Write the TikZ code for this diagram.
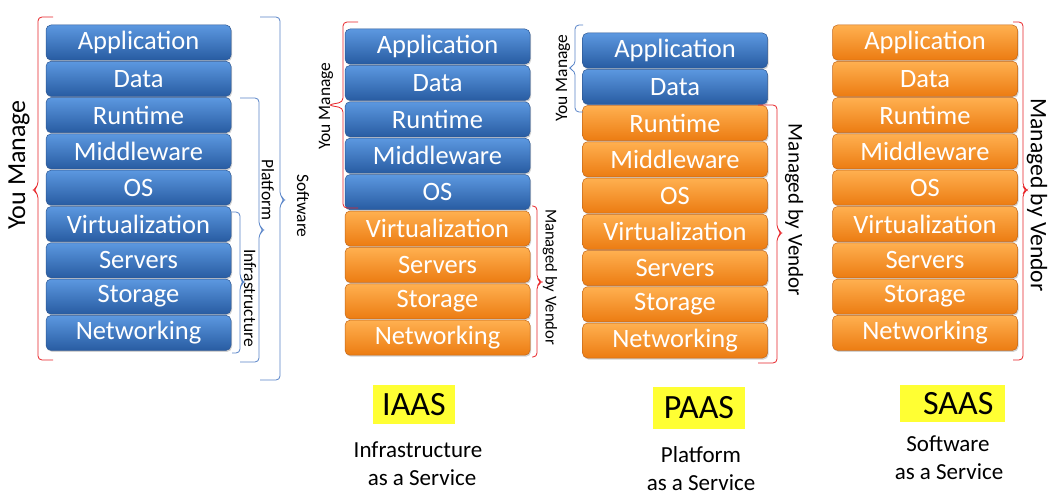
\documentclass[tikz,border=0pt]{standalone}
\usepackage{fontspec}
\setmainfont{Carlito}
\usetikzlibrary{shadows}

\definecolor{youTop}{RGB}{92,152,224}
\definecolor{youBot}{RGB}{40,92,162}
\definecolor{youEdge}{RGB}{46,88,148}
\definecolor{vendTop}{RGB}{255,176,80}
\definecolor{vendBot}{RGB}{236,124,18}
\definecolor{vendEdge}{RGB}{196,104,26}
\definecolor{braceRed}{RGB}{232,36,40}
\definecolor{braceBlue}{RGB}{88,132,200}
\definecolor{hilite}{RGB}{255,255,51}

\tikzset{
  layer/.style={rounded corners=5pt, minimum width=185pt, minimum height=35pt,
    inner sep=0pt, text=white, font=\fontsize{26.5}{29}\selectfont, line width=0.5pt,
    drop shadow={shadow xshift=1pt, shadow yshift=-1.5pt, opacity=0.35}},
  youlayer/.style={layer, draw=youEdge, top color=youTop, bottom color=youBot},
  vendorlayer/.style={layer, draw=vendEdge, top color=vendTop, bottom color=vendBot},
  redbrace/.style={draw=braceRed, line width=0.8pt, rounded corners=4pt},
  bluebrace/.style={draw=braceBlue, line width=0.8pt, rounded corners=4pt},
  sidelabel/.style={inner sep=0pt, font=\fontsize{17.5}{20}\selectfont},
  tag/.style={fill=hilite, inner sep=0pt, font=\fontsize{34}{36}\selectfont},
  caption/.style={anchor=base, inner sep=0pt, font=\fontsize{23}{26}\selectfont},
}

\begin{document}
\begin{tikzpicture}[x=1pt,y=-1pt]
\useasboundingbox[fill=white] (0,0) rectangle (1064,495);

% own stack
\node[youlayer] (ownApplication) at (138.5, 42.5) {Application};
\node[youlayer] (ownData) at (138.5, 78.8) {Data};
\node[youlayer] (ownRuntime) at (138.5,115.1) {Runtime};
\node[youlayer] (ownMiddleware) at (138.5,151.4) {Middleware};
\node[youlayer] (ownOS) at (138.5,187.7) {OS};
\node[youlayer] (ownVirtualization) at (138.5,224.0) {Virtualization};
\node[youlayer] (ownServers) at (138.5,260.3) {Servers};
\node[youlayer] (ownStorage) at (138.5,296.6) {Storage};
\node[youlayer] (ownNetworking) at (138.5,332.9) {Networking};

\path[redbrace] (53,17) -- (38,17) -- (38,186) -- (33,190) -- (38,194) -- (38,360) -- (53,360);
\node[sidelabel, rotate=90, font=\fontsize{26}{28}\selectfont] (ownYou) at (19,165) {You Manage};

\path[bluebrace] (232,212) -- (240,212) -- (240,278) -- (244,282) -- (240,286) -- (240,353) -- (232,353);
\path[bluebrace] (240,98) -- (259,98) -- (259,226) -- (264,230) -- (259,234) -- (259,362) -- (240,362);
\path[bluebrace] (260,17) -- (280,17) -- (280,196) -- (285,200) -- (280,204) -- (280,380) -- (260,380);
\node[sidelabel, rotate=-90] (ownPlatform) at (268,190) {Platform};
\node[sidelabel, rotate=-90] (ownInfra) at (250,298) {Infrastructure};
\node[sidelabel, rotate=-90] (ownSoftware) at (303,206) {Software};

% iaas stack
\node[youlayer] (iaasApplication) at (437.5, 46.5) {Application};
\node[youlayer] (iaasData) at (437.5, 82.9) {Data};
\node[youlayer] (iaasRuntime) at (437.5,119.3) {Runtime};
\node[youlayer] (iaasMiddleware) at (437.5,155.7) {Middleware};
\node[youlayer] (iaasOS) at (437.5,192.1) {OS};
\node[vendorlayer] (iaasVirtualization) at (437.5,228.5) {Virtualization};
\node[vendorlayer] (iaasServers) at (437.5,264.9) {Servers};
\node[vendorlayer] (iaasStorage) at (437.5,301.3) {Storage};
\node[vendorlayer] (iaasNetworking) at (437.5,337.7) {Networking};

\path[redbrace] (358,22) -- (343,22) -- (343,102) -- (328,105) -- (343,108) -- (343,208) -- (358,208);
\node[sidelabel, rotate=90] (iaasYou) at (326,106) {You Manage};
\path[redbrace] (532,206) -- (537,206) -- (537,279) -- (542,282) -- (537,285) -- (537,357) -- (532,357);
\node[sidelabel, rotate=-90, font=\fontsize{16.6}{19}\selectfont] (iaasVendor) at (550,277) {Managed by Vendor};

% paas stack
\node[youlayer] (paasApplication) at (675, 50.5) {Application};
\node[youlayer] (paasData) at (675, 86.75) {Data};
\node[vendorlayer] (paasRuntime) at (675,123) {Runtime};
\node[vendorlayer] (paasMiddleware) at (675,159.25) {Middleware};
\node[vendorlayer] (paasOS) at (675,195.5) {OS};
\node[vendorlayer] (paasVirtualization) at (675,231.75) {Virtualization};
\node[vendorlayer] (paasServers) at (675,268) {Servers};
\node[vendorlayer] (paasStorage) at (675,304.25) {Storage};
\node[vendorlayer] (paasNetworking) at (675,340.5) {Networking};

\path[bluebrace] (583,25) -- (575,25) -- (575,65) -- (568,68) -- (575,71) -- (575,112) -- (583,112);
\node[sidelabel, rotate=90] (paasYou) at (563,78) {You Manage};
\path[redbrace] (758,105) -- (777,105) -- (777,229) -- (782,233) -- (777,237) -- (777,363) -- (758,363);
\node[sidelabel, rotate=-90, font=\fontsize{21}{24}\selectfont] (paasVendor) at (794,210) {Managed by Vendor};

% saas stack
\node[vendorlayer] (saasApplication) at (925, 42.5) {Application};
\node[vendorlayer] (saasData) at (925, 78.8) {Data};
\node[vendorlayer] (saasRuntime) at (925,115.1) {Runtime};
\node[vendorlayer] (saasMiddleware) at (925,151.4) {Middleware};
\node[vendorlayer] (saasOS) at (925,187.7) {OS};
\node[vendorlayer] (saasVirtualization) at (925,224.0) {Virtualization};
\node[vendorlayer] (saasServers) at (925,260.3) {Servers};
\node[vendorlayer] (saasStorage) at (925,296.6) {Storage};
\node[vendorlayer] (saasNetworking) at (925,332.9) {Networking};

\path[redbrace] (1013,22) -- (1023,22) -- (1023,187) -- (1027,190) -- (1023,193) -- (1023,360) -- (1013,360);
\node[sidelabel, rotate=-90, font=\fontsize{23.6}{26}\selectfont] (saasVendor) at (1037,195) {Managed by Vendor};

% model names
\node[tag, minimum width=82, minimum height=39] (iaasTag) at (414,404.5) {IAAS};
\node[caption] (iaasLine1) at (418,457) {Infrastructure};
\node[caption] (iaasLine2) at (422,485) {as a Service};

\node[tag, minimum width=92, minimum height=42] (paasTag) at (699,408) {PAAS};
\node[caption] (paasLine1) at (701,462) {Platform};
\node[caption] (paasLine2) at (701,490) {as a Service};

\node[tag, minimum width=105, minimum height=37] (saasTag) at (952.5,403.5) {\,\,SAAS};
\node[caption] (saasLine1) at (948,451) {Software};
\node[caption] (saasLine2) at (949,479) {as a Service};
\end{tikzpicture}
\end{document}
